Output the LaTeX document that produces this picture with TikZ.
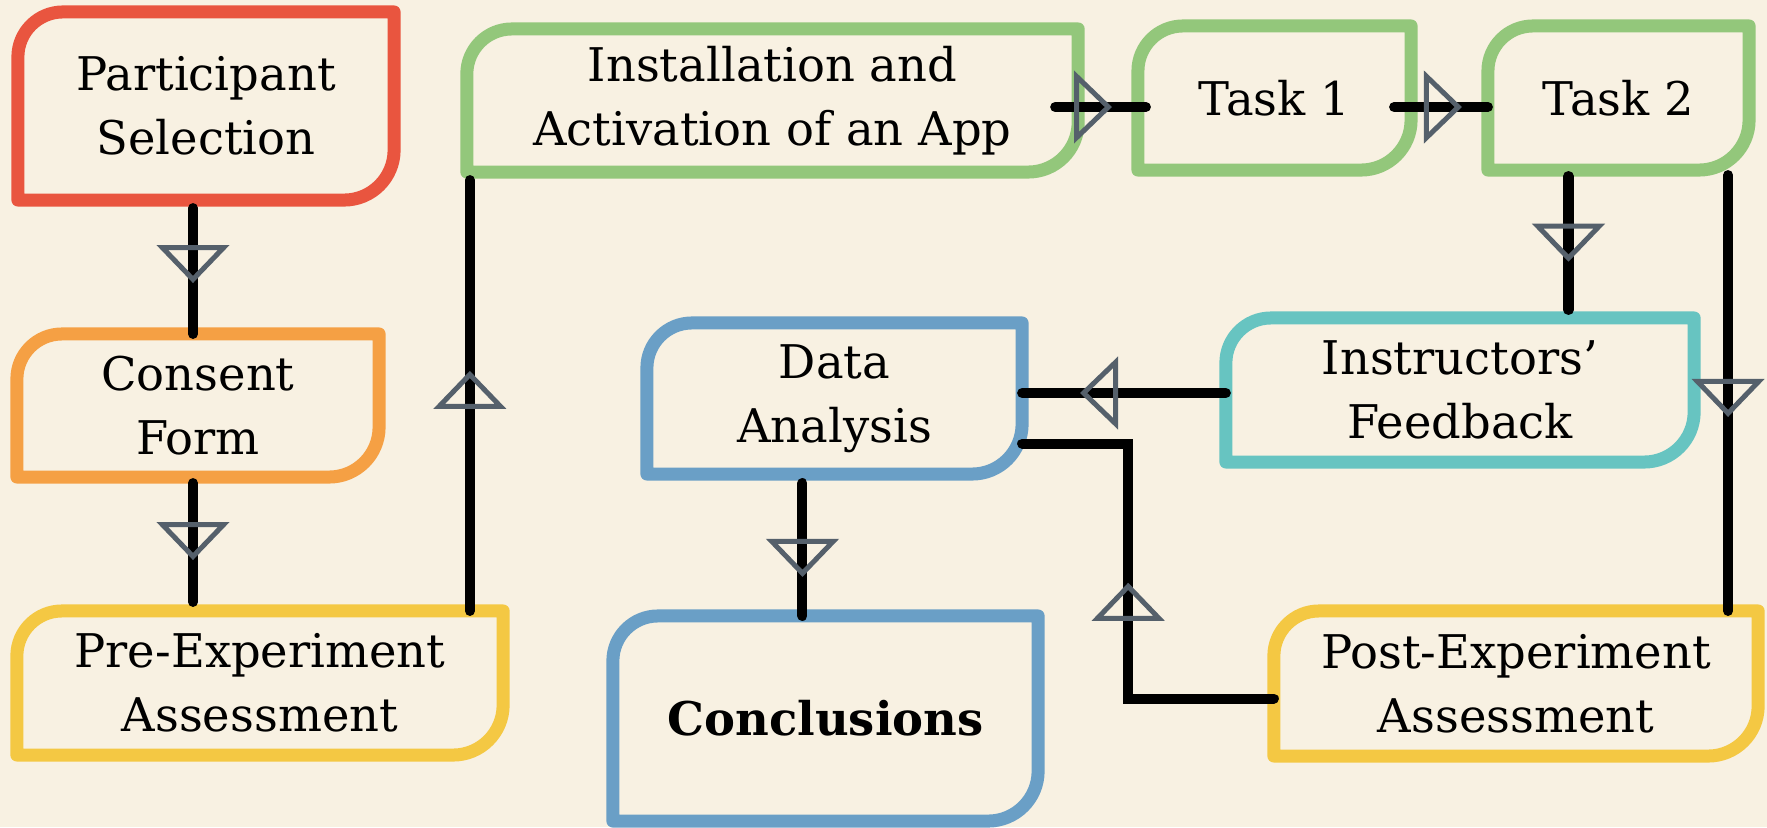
\documentclass[tikz,border=0pt]{standalone}
\usepackage{fontspec}
\setmainfont{DejaVu Serif}
\usepackage{tikz}
\usetikzlibrary{arrows.meta,decorations.markings}
\usepackage{xcolor}

\definecolor{bgcream}{HTML}{F8F1E2}
\definecolor{partred}{HTML}{E9553F}
\definecolor{formorange}{HTML}{F5A044}
\definecolor{assessyellow}{HTML}{F4C843}
\definecolor{appgreen}{HTML}{93C77B}
\definecolor{feedteal}{HTML}{67C4C1}
\definecolor{datablue}{HTML}{6A9FC6}
\definecolor{tipgray}{HTML}{55606B}

\begin{document}
\begin{tikzpicture}[x=0.01cm, y=-0.01cm,
    stage/.style={align=center, inner sep=0pt, outer sep=0pt,
                  font=\fontsize{13.2}{18.2}\selectfont},
    outline/.style={line width=0.13cm, line join=round},
    conn/.style={line width=0.1cm, line cap=round, black},
    tipat/.style={postaction={decorate, decoration={markings,
        mark=at position #1 with {\arrow{Triangle[open, length=3.8mm, width=7.2mm, line width=0.5mm, color=tipgray]}}}}}]

% Paper background
\useasboundingbox (0,0) rectangle (1767,827);
\fill[bgcream] (0,0) rectangle (1767,827);

% Stages of the study
\node[stage, minimum width=3.76cm, minimum height=1.88cm] (part)    at (206,106)   {Participant\\Selection};
\node[stage, minimum width=3.62cm, minimum height=1.43cm] (consent) at (198,405.5) {Consent\\Form};
\node[stage, minimum width=4.86cm, minimum height=1.44cm] (pre)     at (260,683)   {Pre-Experiment\\Assessment};
\node[stage, minimum width=6.11cm, minimum height=1.43cm] (install) at (772.5,100.5) {Installation and\\Activation of an App};
\node[stage, minimum width=2.73cm, minimum height=1.44cm] (taskone) at (1274.5,98) {Task 1};
\node[stage, minimum width=2.61cm, minimum height=1.44cm] (tasktwo) at (1618.5,98) {Task 2};
\node[stage, minimum width=4.68cm, minimum height=1.44cm] (instr)   at (1460,390)  {Instructors'\\Feedback};
\node[stage, minimum width=3.75cm, minimum height=1.51cm] (data)    at (834.5,398.5) {Data\\Analysis};
\node[stage, minimum width=4.25cm, minimum height=2.05cm] (concl)   at (825.5,718.5) {\bfseries Conclusions};
\node[stage, minimum width=4.84cm, minimum height=1.45cm] (post)    at (1516,683.5) {Post-Experiment\\Assessment};

% Box outlines: round top left and bottom right corners
\foreach \n/\c in {part/partred, consent/formorange, pre/assessyellow, install/appgreen,
                   taskone/appgreen, tasktwo/appgreen, instr/feedteal, data/datablue,
                   concl/datablue, post/assessyellow}
  \draw[outline, \c] (\n.north east) -- ([yshift=5mm]\n.south east)
    arc[start angle=0, end angle=-90, radius=5mm] -- (\n.south west)
    -- ([yshift=-4.5mm]\n.north west) arc[start angle=180, end angle=90, radius=4.5mm] -- cycle;

% Connectors
\draw[conn, tipat=0.62, shorten <=0.8mm] ([xshift=-1.3mm]part.south) -- ([xshift=-1.3mm]part.south |- consent.north);
\draw[conn, tipat=0.62, shorten <=0.6mm, shorten >=0.9mm] ([xshift=-0.5mm]consent.south) -- ([xshift=-0.5mm]consent.south |- pre.north);
\draw[conn, tipat=0.547, shorten >=0.8mm] ([xshift=0.3mm]pre.north -| install.south west) -- ([xshift=0.3mm]install.south west);
\draw[conn, tipat=0.687, shorten >=-0.8mm] ([xshift=-2.3mm, yshift=-0.65mm]install.east) -- ([yshift=-0.65mm]install.east -| taskone.west);
\draw[conn, tipat=0.723] ([xshift=-1.7mm, yshift=-0.9mm]taskone.east) -- ([yshift=-0.9mm]taskone.east -| tasktwo.west);
\draw[conn, tipat=0.62, shorten <=0.6mm, shorten >=0.8mm] ([xshift=-5mm]tasktwo.south) -- ([xshift=-5mm]tasktwo.south |- instr.north);
\draw[conn, tipat=0.56, shorten <=0.5mm] ([xshift=-2.1mm]tasktwo.south east) -- ([xshift=-2.1mm]tasktwo.south east |- post.north);
\draw[conn, tipat=0.716] ([yshift=-0.3mm]instr.west) -- ([yshift=-0.3mm]instr.west -| data.east);
\draw[conn, tipat=0.516] ([yshift=-1.5mm]post.west) -| ([xshift=10.6mm, yshift=-4.5mm]data.east) -- ([yshift=-4.5mm]data.east);
\draw[conn, tipat=0.725, shorten <=0.9mm] ([xshift=-3.2mm]data.south) -- ([xshift=-3.2mm]data.south |- concl.north);

\end{tikzpicture}
\end{document}
